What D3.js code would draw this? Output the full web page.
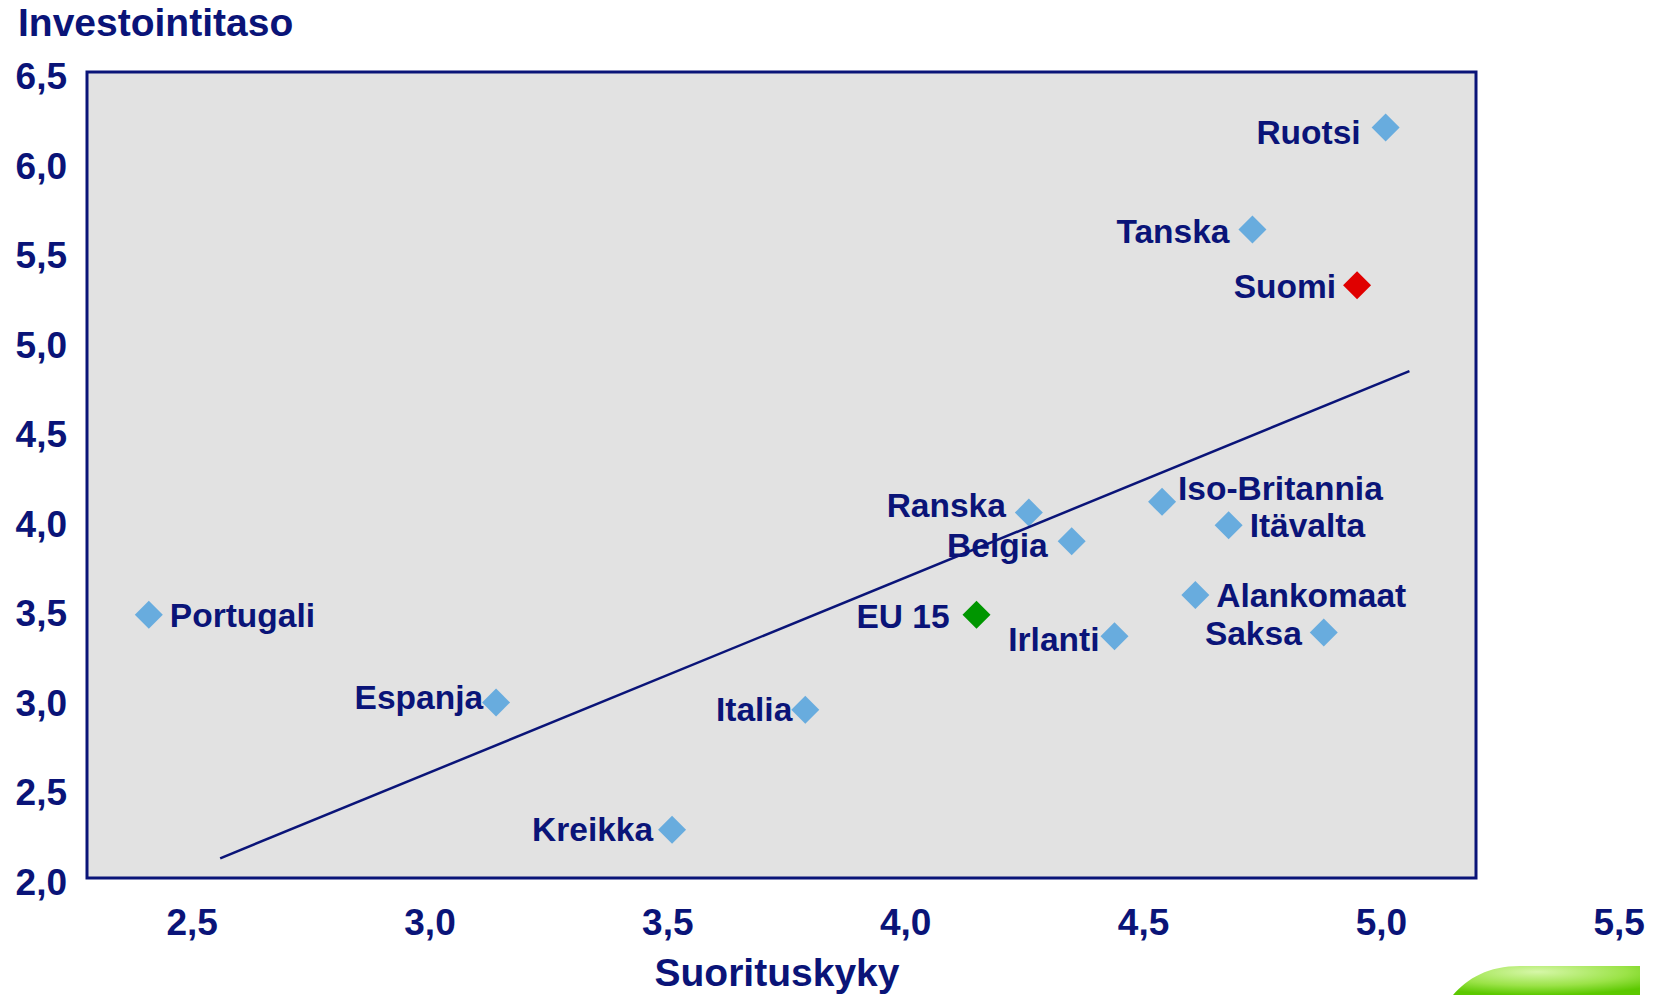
<!DOCTYPE html>
<html>
<head>
<meta charset="utf-8">
<script src="https://cdn.jsdelivr.net/npm/d3@7"></script>
<style>
  body { margin: 0; background: #fff; }
  svg { display: block; font-family: "Liberation Sans", Arial, sans-serif; font-weight: bold; }
</style>
</head>
<body>
<svg id="chart" width="1667" height="995"></svg>
<script>
// data
const countries = ["Ruotsi", "Tanska", "Suomi", "Ranska", "Belgia", "Iso-Britannia", "Itävalta",
  "Alankomaat", "Saksa", "EU 15", "Irlanti", "Espanja", "Italia", "Kreikka", "Portugali"];
const suorituskyky = [5.01, 4.73, 4.95, 4.26, 4.35, 4.54, 4.68, 4.61, 4.88, 4.15, 4.44, 3.14, 3.79, 3.51, 2.41];
const investointitaso = [6.19, 5.62, 5.31, 4.04, 3.88, 4.10, 3.97, 3.58, 3.37, 3.47, 3.35, 2.98, 2.94, 2.27, 3.47];
const trendX = [2.56, 5.06];
const trendY = [2.11, 4.83];
const xTicks = [2.5, 3.0, 3.5, 4.0, 4.5, 5.0, 5.5];
const yTicks = [2.0, 2.5, 3.0, 3.5, 4.0, 4.5, 5.0, 5.5, 6.0, 6.5];

// label placement next to each marker
const labelPos = {
  "Ruotsi": ["end", -25, 16], "Tanska": ["end", -23, 13], "Suomi": ["end", -21, 13],
  "Ranska": ["end", -23, 4], "Belgia": ["end", -24, 16], "Iso-Britannia": ["start", 16, -2],
  "Itävalta": ["start", 21, 12], "Alankomaat": ["start", 21, 12], "Saksa": ["end", -22, 12],
  "EU 15": ["end", -27, 13], "Irlanti": ["end", -15, 15], "Espanja": ["end", -13, 7],
  "Italia": ["end", -13, 11], "Kreikka": ["end", -19, 11], "Portugali": ["start", 21, 12]
};

const navy = "#0a1478";
const box = { left: 87, right: 1476, top: 72, bottom: 878 };

const x = d3.scaleLinear().domain([2.28, 5.2]).range([box.left, box.right]);
const y = d3.scaleLinear().domain([2, 6.5]).range([box.bottom, box.top]);
const fmt = v => d3.format(".1f")(v).replace(".", ",");

const svg = d3.select("#chart");

// gradient for the green logo corner
const defs = svg.append("defs");
const grad = defs.append("radialGradient").attr("id", "lg")
  .attr("cx", "0.45").attr("cy", "0.2").attr("r", "0.8");
grad.append("stop").attr("offset", "0%").attr("stop-color", "#d6f7a8");
grad.append("stop").attr("offset", "60%").attr("stop-color", "#9be348");
grad.append("stop").attr("offset", "100%").attr("stop-color", "#5cc800");

svg.append("path")
  .attr("d", "M1453,995 C1468,978 1488,966 1520,966 L1640,966 L1640,995 Z")
  .attr("fill", "url(#lg)");

// plot area
svg.append("rect")
  .attr("x", box.left).attr("y", box.top)
  .attr("width", box.right - box.left).attr("height", box.bottom - box.top)
  .attr("fill", "#e2e2e2")
  .attr("stroke", navy).attr("stroke-width", 3);

// y axis
const yAxis = svg.append("g")
  .attr("transform", "translate(" + box.left + ",0)")
  .call(d3.axisLeft(y).tickValues(yTicks).tickFormat(fmt).tickSize(0).tickPadding(20));
yAxis.select(".domain").remove();
yAxis.selectAll("text")
  .attr("dy", "16.5px")
  .attr("fill", navy)
  .style("font-size", "37px").style("font-weight", "bold")
  .style("font-family", "'Liberation Sans', Arial, sans-serif");

// x axis (labels sit below the box)
const xAxis = svg.append("g")
  .attr("transform", "translate(0,935)")
  .call(d3.axisBottom(x).tickValues(xTicks).tickFormat(fmt).tickSize(0));
xAxis.select(".domain").remove();
xAxis.selectAll("text")
  .attr("y", 0).attr("dy", 0)
  .attr("fill", navy)
  .style("font-size", "37px").style("font-weight", "bold")
  .style("font-family", "'Liberation Sans', Arial, sans-serif");

// axis titles
svg.append("text")
  .attr("x", 18).attr("y", 36)
  .attr("fill", navy)
  .style("font-size", "39px")
  .text("Investointitaso");

svg.append("text")
  .attr("x", 777).attr("y", 986)
  .attr("text-anchor", "middle")
  .attr("fill", navy)
  .style("font-size", "39px")
  .text("Suorituskyky");

const points = countries.map((c, i) => ({ name: c, px: suorituskyky[i], py: investointitaso[i] }));

// labels first, markers drawn over them
svg.selectAll(".lbl")
  .data(points)
  .enter().append("text")
  .attr("class", "lbl")
  .attr("x", d => x(d.px) + labelPos[d.name][1])
  .attr("y", d => y(d.py) + labelPos[d.name][2])
  .attr("text-anchor", d => labelPos[d.name][0])
  .attr("fill", navy)
  .style("font-size", "33.5px")
  .text(d => d.name);

const diamond = d3.symbol().type(d3.symbolSquare).size(392);
svg.selectAll(".dot")
  .data(points)
  .enter().append("path")
  .attr("class", "dot")
  .attr("d", diamond)
  .attr("transform", d => "translate(" + x(d.px) + "," + y(d.py) + ") rotate(45)")
  .attr("fill", d => d.name === "Suomi" ? "#e00000" : d.name === "EU 15" ? "#009600" : "#68acde");

// trend line
const line = d3.line()
  .x(d => x(d[0]))
  .y(d => y(d[1]));
svg.append("path")
  .datum(trendX.map((v, i) => [v, trendY[i]]))
  .attr("d", line)
  .attr("fill", "none")
  .attr("stroke", navy)
  .attr("stroke-width", 2.5);
</script>
</body>
</html>
